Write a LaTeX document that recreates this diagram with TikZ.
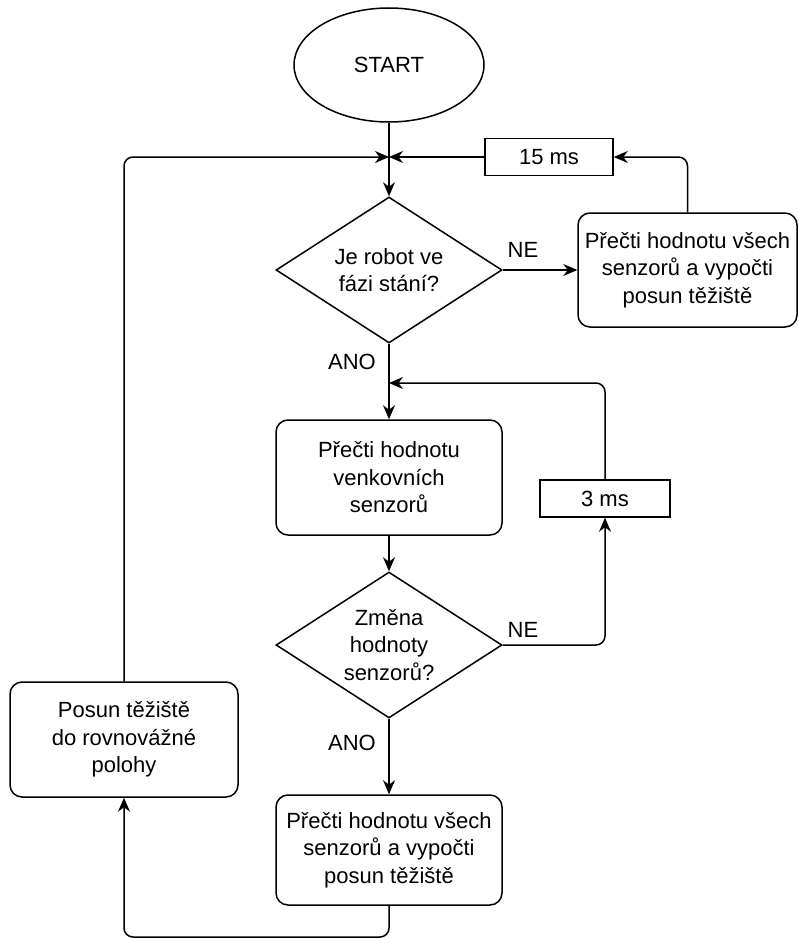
\documentclass[tikz,border=0pt]{standalone}
\usepackage{fontspec}
\setmainfont{Liberation Sans}
\usetikzlibrary{shapes.geometric,arrows.meta}
\begin{document}
\begin{tikzpicture}[x=1pt,y=-1pt,
  every node/.style={font=\fontsize{22}{27.5}\selectfont, align=center},
  base/.style={draw, line width=1.5pt, inner sep=0pt},
  proc/.style={base, rectangle, rounded corners=12pt},
  delay/.style={base, rectangle},
  decision/.style={base, diamond, aspect=1.55},
  term/.style={base, ellipse},
  lbl/.style={inner sep=0pt},
  flow/.style={line width=1.5pt, rounded corners=9pt,
    -{Stealth[length=14pt,width=12pt,inset=4.5pt]}}
]
\useasboundingbox (0,0) rectangle (799,939);

% shapes
\node[term, minimum width=190pt, minimum height=114pt] (start) at (389,65) {START};
\node[decision, minimum width=226pt, minimum height=146pt] (d1) at (389,270) {Je robot ve\\fázi stání?};
\node[delay, minimum width=128pt, minimum height=37pt] (t15) at (549,157) {15 ms};
\node[proc, minimum width=219pt, minimum height=114pt] (readall1) at (687.5,270) {Přečti hodnotu všech\\senzorů a vypočti\\posun těžiště};
\node[proc, minimum width=226pt, minimum height=115pt] (readout) at (389,477.5) {Přečti hodnotu\\venkovních\\senzorů};
\node[delay, minimum width=130pt, minimum height=37pt] (t3) at (605,498.5) {3 ms};
\node[decision, minimum width=226pt, minimum height=146pt] (d2) at (389,645) {Změna\\hodnoty\\senzorů?};
\node[proc, minimum width=226pt, minimum height=110pt] (readall2) at (389,850) {Přečti hodnotu všech\\senzorů a vypočti\\posun těžiště};
\node[proc, minimum width=228pt, minimum height=115pt] (balance) at (124,739.5) {Posun těžiště\\do rovnovážné\\polohy};

% merge points
\coordinate (m1) at (389,157);
\coordinate (m2) at (389,383);
\coordinate (bot) at (389,937);

% branch labels
\node[lbl] (ne1) at (523,250) {NE};
\node[lbl] (ano1) at (352,362) {ANO};
\node[lbl] (ne2) at (523,630) {NE};
\node[lbl] (ano2) at (352,743) {ANO};

% connectors
\draw[flow] (start) -- (d1);
\draw[flow] (balance.north) |- (m1);
\draw[flow] (t15.west) -- (m1);
\draw[flow] (readall1.north) |- (t15.east);
\draw[flow] (d1.east) -- (readall1.west);
\draw[flow] (d1.south) -- (readout.north);
\draw[flow] (readout.south) -- (d2.north);
\draw[flow] (d2.east) -| (t3.south);
\draw[flow] (t3.north) |- (m2);
\draw[flow] (d2.south) -- (readall2.north);
\draw[flow] (readall2.south) -- (bot) -| (balance.south);
\end{tikzpicture}
\end{document}
